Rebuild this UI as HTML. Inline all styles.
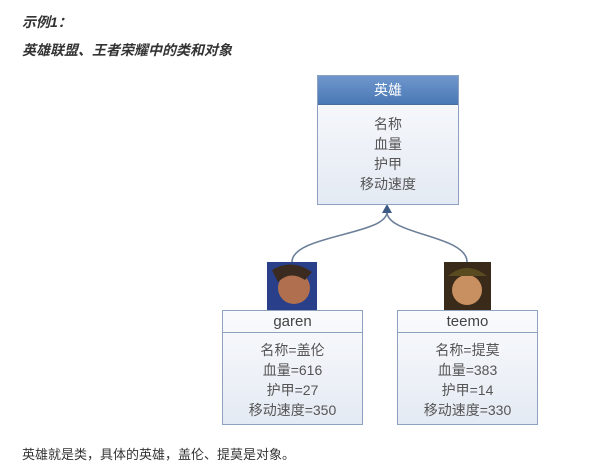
<!DOCTYPE html>
<html><head><meta charset="utf-8"><style>
body{margin:0;width:590px;height:474px;background:#fff;position:relative;overflow:hidden;font-family:"Liberation Sans","Noto Sans CJK SC",sans-serif;color:#333}
.t{position:absolute;font-size:13px;white-space:nowrap}
.b{position:absolute;border:1px solid #8ea2bf;background:linear-gradient(#fafbfd,#e4eaf3);box-sizing:border-box;text-align:center;color:#555}
.h{border-bottom:1px solid #8ea2bf}
</style></head><body>
<div class="t" style="left:22px;top:12px;font-weight:bold;font-style:italic;font-size:14px">示例1：</div>
<div class="t" style="left:22px;top:40px;font-weight:bold;font-style:italic;font-size:14px">英雄联盟、王者荣耀中的类和对象</div>
<div class="t" style="left:22px;top:444px">英雄就是类，具体的英雄，盖伦、提莫是对象。</div>
<svg style="position:absolute;left:0;top:0" width="590" height="474">
<path d="M292 262 C292 235 387 235 387 212" fill="none" stroke="#6c8099" stroke-width="1.6"/>
<path d="M467 262 C467 235 387 235 387 212" fill="none" stroke="#6c8099" stroke-width="1.6"/>
<polygon points="387,204 382,213 392,213" fill="#3d5a85"/>
<rect x="267" y="262" width="50" height="48" fill="#2a3f8a"/>
<circle cx="294" cy="288" r="16" fill="#b07050"/>
<path d="M272 270 Q292 258 312 272 L305 280 Q290 270 278 282Z" fill="#3a2a20"/>
<rect x="444" y="262" width="47" height="48" fill="#3a2a1a"/>
<circle cx="467" cy="290" r="15" fill="#c89060"/>
<path d="M448 276 Q467 260 487 276Z" fill="#5a4a20"/>
</svg>
<div class="b" style="left:317px;top:75px;width:142px;height:130px">
<div style="height:28px;line-height:28px;background:linear-gradient(#6f97cc,#4a78b5);color:#fff;font-size:14px;border-bottom:1px solid #4a6c9c">英雄</div>
<div style="padding-top:9px;font-size:14px;line-height:20px">名称<br>血量<br>护甲<br>移动速度</div>
</div>
<div class="b" style="left:222px;top:310px;width:141px;height:115px">
<div class="h" style="height:21px;line-height:21px;font-size:15px;color:#444">garen</div>
<div style="padding-top:7px;font-size:14px;line-height:20px">名称=盖伦<br>血量=616<br>护甲=27<br>移动速度=350</div>
</div>
<div class="b" style="left:397px;top:310px;width:141px;height:115px">
<div class="h" style="height:21px;line-height:21px;font-size:15px;color:#444">teemo</div>
<div style="padding-top:7px;font-size:14px;line-height:20px">名称=提莫<br>血量=383<br>护甲=14<br>移动速度=330</div>
</div>
</body></html>
